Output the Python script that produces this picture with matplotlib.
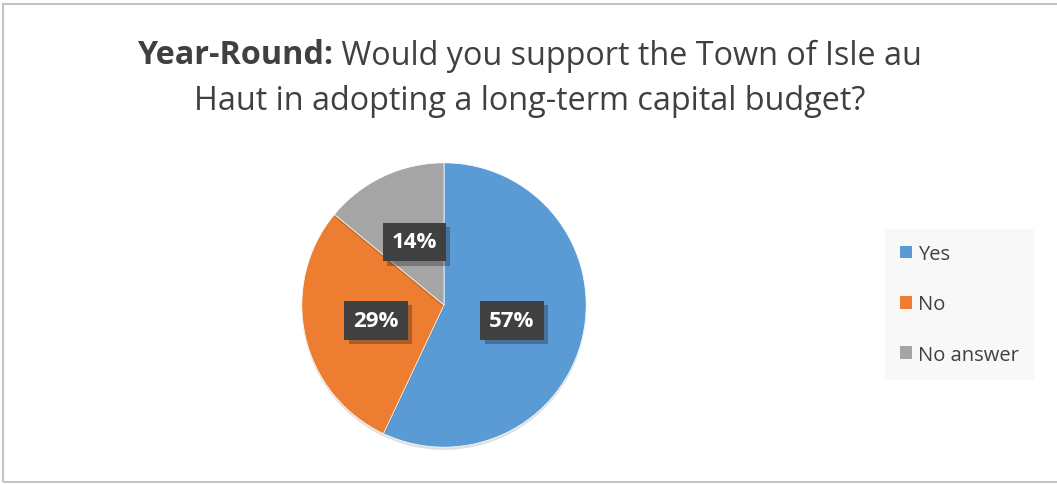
#! /usr/bin/env python3

import numpy as np
import matplotlib
matplotlib.use('agg')
import matplotlib.pyplot as plt
import matplotlib.patches as mpatches
import matplotlib.patheffects as pe

plt.rcParams['font.family'] = ['Open Sans', 'DejaVu Sans']

# Survey answers
categories = ['Yes', 'No', 'No answer']
shares = [57, 29, 14]
colors = ['#5B9BD5', '#ED7D31', '#A5A5A5']

title_bold = 'Year-Round:'
title_rest = ' Would you support the Town of Isle au'
title_line2 = 'Haut in adopting a long-term capital budget?'

W, H = 1057, 485
dpi = 100
fig = plt.figure(figsize=(W / dpi, H / dpi), dpi=dpi)
fig.patch.set_facecolor('white')

# chart frame
frame = mpatches.Rectangle((2.5 / W, 2.5 / H), 1.1, (H - 7.5) / H,
                           transform=fig.transFigure, fill=False,
                           edgecolor='#c4c4c4', linewidth=1.5)
fig.patches.append(frame)

# title, first line mixes bold and regular
txt_col = '#404040'
fs_title = 23.3
renderer = fig.canvas.get_renderer()
t1 = fig.text(0, 0, title_bold, fontsize=fs_title, fontweight='bold', color=txt_col,
              va='center', ha='left')
t2 = fig.text(0, 0, title_rest, fontsize=fs_title, color=txt_col, va='center', ha='left')
w1 = t1.get_window_extent(renderer).width
w2 = t2.get_window_extent(renderer).width
x0 = 529.5 - (w1 + w2) / 2
y1 = 1 - 56 / H
t1.set_position((x0 / W, y1))
t2.set_position(((x0 + w1) / W, y1))
fig.text(529.5 / W, 1 - 102 / H, title_line2, fontsize=fs_title, color=txt_col,
         ha='center', va='center')

# pie
cx, cy, r = 444, 306, 145
ax = fig.add_axes([(cx - r) / W, (H - cy - r) / H, 2 * r / W, 2 * r / H])
wedges, texts, autotexts = ax.pie(shares, colors=colors, startangle=90, counterclock=False,
                                  radius=1, autopct='%1.0f%%', pctdistance=0.49,
                                  wedgeprops=dict(linewidth=0.5, edgecolor='white'),
                                  textprops=dict(color='white', fontsize=16, fontweight='bold'))
ax.set_xlim(-1.02, 1.02)
ax.set_ylim(-1.02, 1.02)
ax.set_aspect('equal')
ax.axis('off')
for w in wedges:
    w.set_path_effects([pe.SimplePatchShadow(offset=(0, -2), shadow_rgbFace='#000000', alpha=0.12),
                        pe.Normal()])
for t in autotexts:
    t.set_bbox(dict(boxstyle='square,pad=0.4', facecolor='#404040', edgecolor='none'))
    t.get_bbox_patch().set_path_effects([pe.SimplePatchShadow(offset=(3, -3), alpha=0.3),
                                         pe.Normal()])

# legend
handles = [mpatches.Patch(facecolor=c, edgecolor='none') for c in colors]
leg = fig.legend(handles, categories, loc='upper left',
                 bbox_to_anchor=(885 / W, 1 - 230 / H), fontsize=14.5,
                 frameon=True, fancybox=False, labelspacing=1.5,
                 handlelength=0.6, handleheight=0.6, handletextpad=0.3,
                 borderpad=0.75, borderaxespad=0)
leg.get_frame().set_facecolor('#f7f7f7')
leg.get_frame().set_edgecolor('none')
for t in leg.get_texts():
    t.set_color(txt_col)

fig.savefig('out.png', dpi=dpi)
